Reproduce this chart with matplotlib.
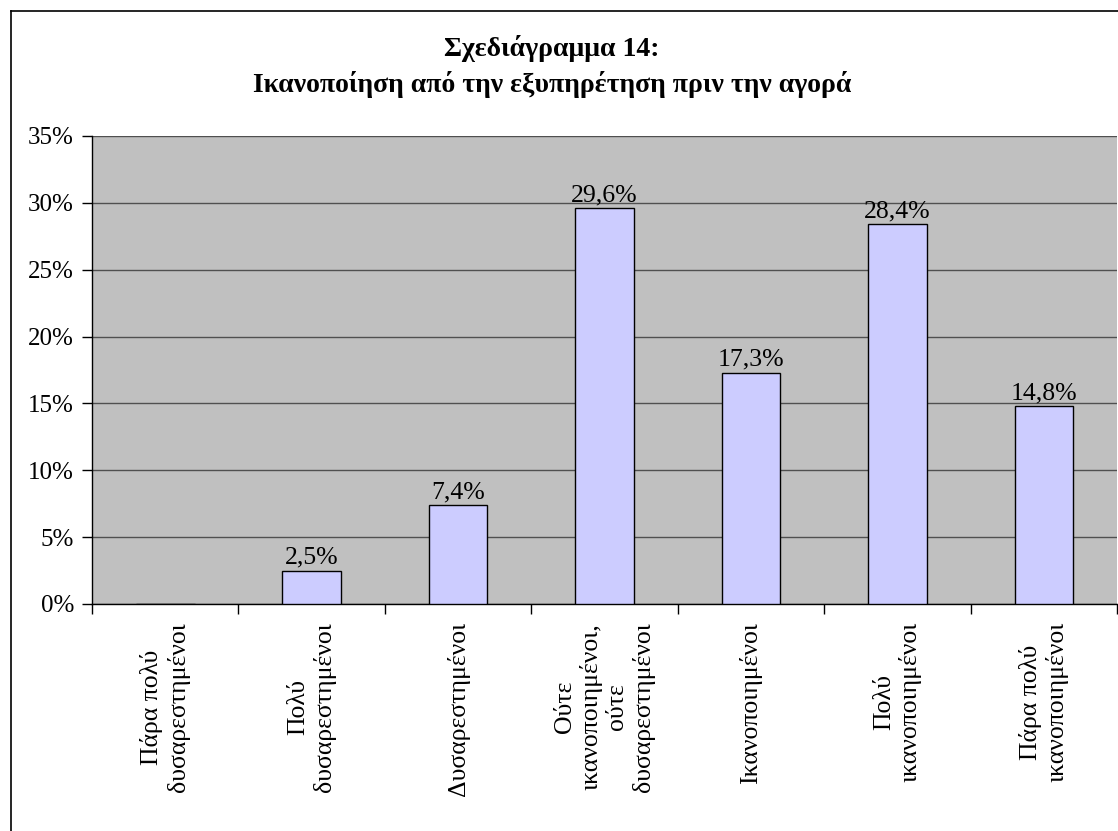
import matplotlib
matplotlib.use("Agg")
import matplotlib.pyplot as plt
from matplotlib.lines import Line2D
import numpy as np

plt.rcParams['font.family'] = ['Liberation Serif', 'DejaVu Serif']

categories = ["Πάρα πολύ\nδυσαρεστημένοι", "Πολύ\nδυσαρεστημένοι", "Δυσαρεστημένοι",
              "Ούτε\nικανοποιημένοι,\nούτε\nδυσαρεστημένοι", "Ικανοποιημένοι",
              "Πολύ\nικανοποιημένοι", "Πάρα πολύ\nικανοποιημένοι"]
values = [0.0, 2.5, 7.4, 29.6, 17.3, 28.4, 14.8]
value_labels = ["", "2,5%", "7,4%", "29,6%", "17,3%", "28,4%", "14,8%"]
yticks = [0, 5, 10, 15, 20, 25, 30, 35]

fig = plt.figure(figsize=(11.18, 8.31), dpi=100)
ax = fig.add_axes([92/1118, 1-604/831, (1117-92)/1118, (604-136)/831])
ax.set_facecolor('#c0c0c0')

x = np.arange(len(categories))
ax.bar(x, values, width=0.4, color='#ccccff', edgecolor='black', lw=1, zorder=3)
for xi, v, lab in zip(x, values, value_labels):
    if lab:
        ax.annotate(lab, (xi, v), xytext=(0, 1.5), textcoords='offset points',
                    ha='center', va='bottom', fontsize=18.5, zorder=4)

ax.set_xlim(-0.5, len(categories) - 0.5)
ax.set_ylim(0, 35)
ax.set_yticks(yticks)
ax.set_yticklabels([f"{t}%" for t in yticks], fontsize=18)
ax.yaxis.grid(True, color='#505050', lw=1, zorder=1)
ax.tick_params(axis='y', length=7, width=1, pad=6, direction='out')

ax.set_xticks(x)
ax.set_xticklabels(categories, rotation=90, fontsize=18.5, va='top', ha='center',
                   multialignment='center', linespacing=1.22)
ax.tick_params(axis='x', which='major', length=0, pad=13)
ax.set_xticks(np.arange(len(categories) + 1) - 0.5, minor=True)
ax.tick_params(axis='x', which='minor', length=7, width=1, direction='out')

for s in ['top', 'right']:
    ax.spines[s].set_visible(False)
ax.spines['left'].set_linewidth(1)
ax.spines['bottom'].set_linewidth(1)

fig.text(552/1118, 1-48/831, "Σχεδιάγραμμα 14:", ha='center', va='center',
         fontsize=20, fontweight='bold')
fig.text(552/1118, 1-85/831, "Ικανοποίηση από την εξυπηρέτηση πριν την αγορά",
         ha='center', va='center', fontsize=20, fontweight='bold')

# outer chart border (only left/top visible in the crop)
fig.add_artist(Line2D([11/1118, 11/1118], [0, 1-11/831], color='black', lw=1.2,
                      transform=fig.transFigure))
fig.add_artist(Line2D([11/1118, 1], [1-11/831, 1-11/831], color='black', lw=1.2,
                      transform=fig.transFigure))

fig.savefig("out.png", dpi=100)
